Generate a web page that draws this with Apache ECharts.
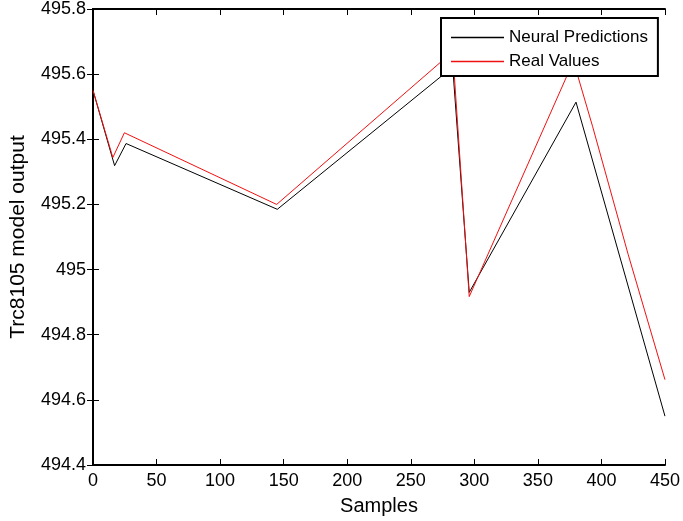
<!DOCTYPE html>
<html>
<head>
<meta charset="utf-8">
<script src="https://cdn.jsdelivr.net/npm/echarts@6/dist/echarts.min.js"></script>
<style>
html,body{margin:0;padding:0;background:#fff;}
#chart{width:683px;height:521px;}
</style>
</head>
<body>
<div id="chart"></div>
<script>
// Neural Predictions (black) vertices: sample index and model output
var predX = [0, 17, 26, 145, 283, 296, 380, 450];
var predY = [495.55, 495.319, 495.387, 495.185, 495.622, 494.93, 495.514, 494.55];
// Real Values (red) vertices
var realX = [0, 15.6, 24.7, 144.5, 283, 296, 378, 393, 421, 450];
var realY = [495.55, 495.344, 495.42, 495.2, 495.669, 494.917, 495.64, 495.44, 495.047, 494.662];

var xTicks = [0, 50, 100, 150, 200, 250, 300, 350, 400, 450];
var yTicks = [494.4, 494.6, 494.8, 495, 495.2, 495.4, 495.6, 495.8];

function pairs(xs, ys){ var out=[]; for(var i=0;i<xs.length;i++) out.push([xs[i], ys[i]]); return out; }

var chart = echarts.init(document.getElementById('chart'), null, {renderer:'canvas'});
var font = 'Liberation Sans, Arial, Helvetica, sans-serif';
var axisCommon = {
  axisLine:{show:true, lineStyle:{color:'#000', width:2}},
  axisTick:{show:true, inside:true, length:6, lineStyle:{color:'#000', width:1}},
  splitLine:{show:false}
};
chart.setOption({
  animation:false,
  backgroundColor:'#fff',
  grid:{left:89, right:17, top:6, bottom:55, containLabel:false},
  legend:{
    orient:'vertical', left:441, top:18,
    backgroundColor:'#fff', borderColor:'#000', borderWidth:2, borderRadius:0,
    padding:[10,10,5,10], itemGap:5, itemWidth:53, itemHeight:1.5,
    icon:'rect',
    textStyle:{fontFamily:font, fontSize:17, color:'#000', lineHeight:19},
    data:['Neural Predictions','Real Values']
  },
  xAxis:[
    Object.assign({type:'value', min:xTicks[0], max:xTicks[xTicks.length-1], interval:50,
      name:'Samples', nameLocation:'middle', nameGap:31,
      nameTextStyle:{fontFamily:font, fontSize:20, color:'#000'},
      axisLabel:{fontFamily:font, fontSize:18, color:'#000', margin:7}}, axisCommon),
    Object.assign({type:'value', position:'top', min:0, max:450, interval:50,
      axisLabel:{show:false}}, axisCommon)
  ],
  yAxis:[
    Object.assign({type:'value', min:yTicks[0], max:yTicks[yTicks.length-1], interval:0.2,
      name:'Trc8105 model output', nameLocation:'middle', nameGap:64,
      nameTextStyle:{fontFamily:font, fontSize:21, color:'#000'},
      axisLabel:{fontFamily:font, fontSize:18, color:'#000', margin:7,
        formatter:function(v){ return String(Math.round(v*10)/10); }}}, axisCommon),
    Object.assign({type:'value', position:'right', min:494.4, max:495.8, interval:0.2,
      axisLabel:{show:false}}, axisCommon)
  ],
  series:[
    {name:'Neural Predictions', type:'line', data:pairs(predX, predY), showSymbol:false,
      color:'#000', lineStyle:{color:'#000', width:1}},
    {name:'Real Values', type:'line', data:pairs(realX, realY), showSymbol:false,
      color:'#f01010', lineStyle:{color:'#f01010', width:1}}
  ]
});
</script>
</body>
</html>
